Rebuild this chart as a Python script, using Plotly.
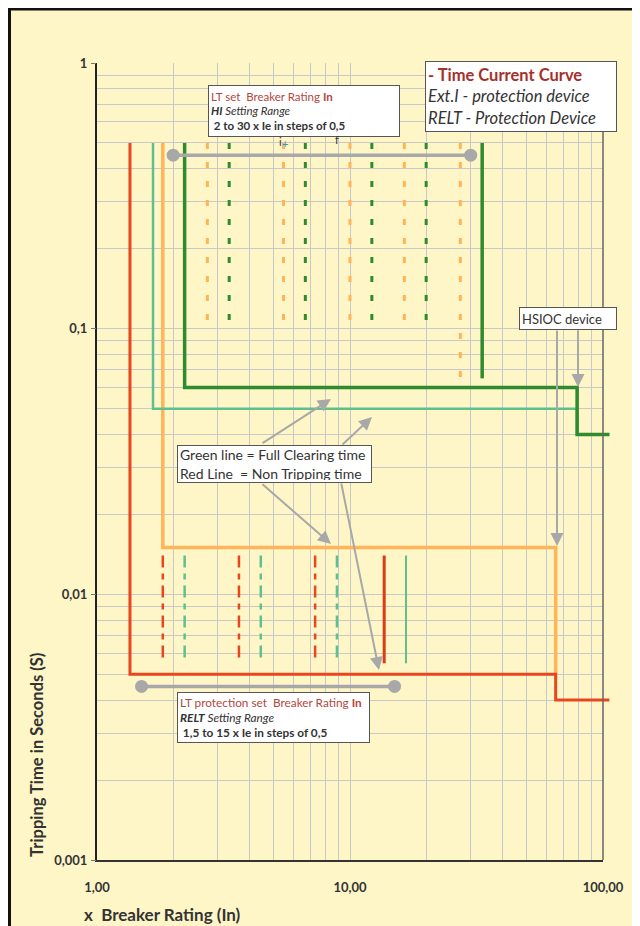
import plotly.graph_objects as go

# ---- data (x = multiples of breaker rating In, t = seconds) ----
red_x = [1.35, 1.35, 65, 65, 106]
red_t = [0.5, 0.005, 0.005, 0.004, 0.004]
orange_x = [1.82, 1.82, 65, 65]
orange_t = [0.5, 0.015, 0.015, 0.005]
ltgreen_x = [1.665, 1.665, 79, 79, 106]
ltgreen_t = [0.5, 0.05, 0.05, 0.04, 0.04]
dkgreen_x = [2.22, 2.22, 79, 79, 106]
dkgreen_t = [0.5, 0.06, 0.06, 0.04, 0.04]

# HI setting steps (dotted verticals)
hi_orange_x = [2.73, 5.46, 10.0, 16.4]
hi_green_x = [3.33, 6.66, 12.2, 20.0]
hi_t = [0.5, 0.105]
hi_last_orange_x = [27.3]
hi_last_green_x = [33.3]
hi_last_t = [0.5, 0.065]

# RELT setting steps
relt_red_x = [1.82, 3.64, 7.28]
relt_green_x = [2.22, 4.44, 8.88]
relt_last_red_x = [13.65]
relt_last_green_x = [16.65]
relt_t = [0.014, 0.0055]

# setting ranges
hi_range_x = [2, 30]
hi_range_t = [0.45, 0.45]
relt_range_x = [1.5, 15]
relt_range_t = [0.0045, 0.0045]

x_decades = [1, 10, 100]
x_ticktext = ['1,00', '10,00', '100,00']
y_decades = [0.001, 0.01, 0.1, 1]
y_ticktext = ['0,001', '0,01', '0,1', '1']

# ---- colours ----
RED = '#E8461E'
ORANGE = '#FFB45A'
LTGREEN = '#5DC08D'
DKGREEN = '#2E8B2E'
GREY = '#A8A8A8'
YELLOW = '#FFF6C8'
BROWN = '#B2473E'
FONT = 'Lato'

# page pixel -> paper helpers (page has an 8px body margin)
OFF = 8
L, R, T, B = 97 - OFF, 610 - OFF, 63 - OFF, 860 - OFF
X_FRAC = (603 - 97) / (610 - 97)   # part of the plot width used by the grid


def px(p):
    return (p - OFF - L) / (R - L)


def py(p):
    return (B - (p - OFF)) / (B - T)


def verticals(xs, ts):
    # one trace of separate vertical segments
    vx, vy = [], []
    for v in xs:
        vx += [v, v, None]
        vy += [ts[0], ts[1], None]
    return vx, vy


fig = go.Figure()

# empty traces so the grid subplot and the tick overlay get drawn
fig.add_trace(go.Scatter(x=[None], y=[None], showlegend=False, hoverinfo='skip'))
fig.add_trace(go.Scatter(x=[None], y=[None], yaxis='y3', showlegend=False, hoverinfo='skip'))


def add_line(x, y, color, width, dash='solid'):
    # data sits on x2/y2: same scale, a few px wider so the tails pass x=100
    fig.add_trace(go.Scatter(x=x, y=y, mode='lines', xaxis='x2', yaxis='y2',
                             line=dict(color=color, width=width, dash=dash),
                             hoverinfo='skip', showlegend=False))


# setting steps
vx, vy = verticals(hi_orange_x, hi_t)
add_line(vx, vy, ORANGE, 3, '6px,13px')
vx, vy = verticals(hi_green_x, hi_t)
add_line(vx, vy, DKGREEN, 3, '6px,13px')
vx, vy = verticals(hi_last_orange_x, hi_last_t)
add_line(vx, vy, ORANGE, 3, '6px,13px')
vx, vy = verticals(hi_last_green_x, hi_last_t)
add_line(vx, vy, DKGREEN, 3.5)

vx, vy = verticals(relt_red_x, relt_t)
add_line(vx, vy, RED, 2.5, '12px,6px,6px,6px')
vx, vy = verticals(relt_green_x, relt_t)
add_line(vx, vy, LTGREEN, 2.5, '12px,6px,6px,6px')
vx, vy = verticals(relt_last_red_x, relt_t)
add_line(vx, vy, '#DC3A12', 3)
vx, vy = verticals(relt_last_green_x, relt_t)
add_line(vx, vy, LTGREEN, 2)

# step curves
add_line(orange_x, orange_t, ORANGE, 3.5)
add_line(red_x, red_t, RED, 3)
add_line(ltgreen_x, ltgreen_t, LTGREEN, 2.5)
add_line(dkgreen_x, dkgreen_t, DKGREEN, 3.5)

# setting range bars
for rx, rt in [(hi_range_x, hi_range_t), (relt_range_x, relt_range_t)]:
    fig.add_trace(go.Scatter(x=rx, y=rt, mode='lines+markers', xaxis='x2', yaxis='y2',
                             line=dict(color=GREY, width=3.5),
                             marker=dict(color=GREY, size=13),
                             hoverinfo='skip', showlegend=False))

# grid positions: every 1..9 of each decade, labels only on decades
x_grid = [m * 10 ** d for d in range(0, 2) for m in range(1, 10)] + [100]
y_grid = [m * 10.0 ** d for d in range(-3, 0) for m in range(1, 10)] + [1]


def labels(vals, decades, text):
    out = []
    for v in vals:
        hit = [t for d, t in zip(decades, text) if abs(v - d) < 1e-9 * d]
        out.append('<b>%s</b>' % hit[0] if hit else '')
    return out


grid = '#C8C8C8'
fig.update_layout(
    width=640, height=926,
    margin=dict(l=L, r=640 - R, t=T, b=926 - B),
    paper_bgcolor='white',
    plot_bgcolor='rgba(0,0,0,0)',
    font=dict(family=FONT, color='#333'),
    xaxis=dict(type='log', range=[0, 2], domain=[0, X_FRAC], anchor='y',
               tickmode='array', tickvals=x_grid,
               ticktext=labels(x_grid, x_decades, x_ticktext),
               tickfont=dict(size=13, color='#333'),
               ticks='outside', ticklen=14, tickcolor='rgba(0,0,0,0)',
               showgrid=True, gridcolor=grid, gridwidth=1,
               showline=True, linecolor='#333', linewidth=2, zeroline=False),
    yaxis=dict(type='log', range=[-3, 0], domain=[0, 1], anchor='x',
               tickmode='array', tickvals=y_grid,
               ticktext=labels(y_grid, y_decades, y_ticktext),
               tickfont=dict(size=13, color='#333'),
               ticks='outside', ticklen=5, tickcolor='rgba(0,0,0,0)',
               showgrid=True, gridcolor=grid, gridwidth=1,
               showline=True, linecolor='#222', linewidth=2, zeroline=False),
    # decade tick marks only
    yaxis3=dict(type='log', range=[-3, 0], overlaying='y', anchor='x', side='left',
                tickmode='array', tickvals=y_decades, showticklabels=False,
                ticks='outside', ticklen=5, tickcolor='#777', showgrid=False,
                zeroline=False, showline=False),
    xaxis2=dict(type='log', range=[0, 2 / X_FRAC], domain=[0, 1],
                anchor='y2', visible=False),
    yaxis2=dict(type='log', range=[-3, 0], domain=[0, 1], anchor='x2', visible=False),
)

# outer frame
fig.add_shape(type='rect', xref='paper', yref='paper', layer='below',
              x0=px(9.5), y0=py(1000), x1=px(800), y1=py(9),
              fillcolor=YELLOW, line=dict(color='#111', width=3))
# right border of the grid
fig.add_shape(type='line', xref='x domain', yref='y domain', x0=1, x1=1, y0=0, y1=1,
              line=dict(color='#666', width=1.5))

# axis titles
fig.add_annotation(text='<b>Tripping Time in Seconds (S)</b>', textangle=-90,
                   xref='paper', yref='paper', x=px(37), y=py(755), showarrow=False,
                   xanchor='center', yanchor='middle',
                   font=dict(size=16.5, color='#333'))
fig.add_annotation(text='<b>x\u00a0 Breaker Rating (In)</b>',
                   xref='paper', yref='paper', x=px(162), y=py(914), showarrow=False,
                   xanchor='center', yanchor='middle',
                   font=dict(size=17, color='#333'))


def box(text, left, top, w, h, size):
    fig.add_annotation(text=text, xref='paper', yref='paper', x=px(left), y=py(top),
                       xanchor='left', yanchor='top', showarrow=False, align='left',
                       width=w - 6, height=h - 6, borderpad=2, borderwidth=1,
                       bordercolor='#555', bgcolor='white',
                       font=dict(size=size, color='#333', family=FONT))


box(f'<span style="color:{BROWN}">LT set\u00a0 Breaker Rating <b>In</b></span><br>'
    '<b><i>HI</i></b><i> Setting Range</i><br>'
    '<b>\u00a02 to 30 x Ie in steps of 0,5</b>', 208, 85, 192, 52, 11.5)
box('<b><span style="color:#A4302A">- Time Current Curve</span></b><br>'
    '<i>Ext.I - protection device</i><br><i>RELT - Protection Device</i>',
    425, 61, 192, 71, 16.5)
box('HSIOC device', 519, 307, 98, 23, 13)
box('Green line = Full Clearing time<br>Red Line\u00a0 = Non Tripping time',
    177, 445, 195, 38, 14)
box(f'<span style="color:{BROWN}">LT protection set\u00a0 Breaker Rating <b>In</b></span><br>'
    '<b><i>RELT</i></b><i> Setting Range</i><br>'
    '<b>\u00a01,5 to 15 x Ie in steps of 0,5</b>', 177, 692, 193, 51, 11.8)

# small marker labels
for t, xx, yy, c in [('i', 280, 142, '#333'), ('+', 285, 143, '#2AA3B0'), ('f', 337, 140, '#333')]:
    fig.add_annotation(text=t, xref='paper', yref='paper', x=px(xx), y=py(yy),
                       xanchor='center', yanchor='middle',
                       showarrow=False, font=dict(size=11, color=c))

# grey pointer arrows (tail -> head, page px)
arrows = [((261, 444), (331, 399)), ((341, 446), (372, 417)),
          ((261, 483), (331, 544)), ((341, 482), (379, 670)),
          ((578, 329), (578, 387)), ((557, 329), (557, 546))]
for (tx, ty), (hx, hy) in arrows:
    fig.add_annotation(text='', xref='paper', yref='paper', x=px(hx), y=py(hy),
                       ax=tx - hx, ay=ty - hy, showarrow=True, arrowhead=2,
                       arrowsize=1.3, arrowwidth=2, arrowcolor=GREY, standoff=0)

fig.write_html('out.html')
